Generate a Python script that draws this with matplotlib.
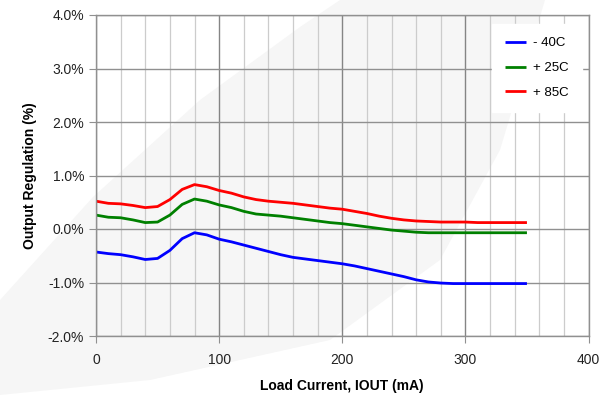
import numpy as np
import matplotlib
matplotlib.use("Agg")
import matplotlib.pyplot as plt
from matplotlib.ticker import FuncFormatter, MultipleLocator
from matplotlib.patches import Polygon

plt.rcParams['font.family'] = ['Liberation Sans', 'DejaVu Sans']

# Load current (mA)
load_ma = [0, 10, 20, 30, 40, 50, 60, 70, 80, 90, 100, 110, 120, 130, 140, 150, 160, 170,
           180, 190, 200, 210, 220, 230, 240, 250, 260, 270, 280, 290, 300, 310, 320, 330, 340, 350]

# Output regulation (%)
reg_m40 = [-0.43, -0.46, -0.48, -0.52, -0.57, -0.55, -0.40, -0.18, -0.07, -0.11, -0.19, -0.24,
           -0.30, -0.36, -0.42, -0.48, -0.53, -0.56, -0.59, -0.62, -0.65, -0.69, -0.74, -0.79,
           -0.84, -0.89, -0.95, -0.99, -1.01, -1.02, -1.02, -1.02, -1.02, -1.02, -1.02, -1.02]
reg_25 = [0.26, 0.22, 0.21, 0.17, 0.12, 0.13, 0.26, 0.46, 0.56, 0.52, 0.45, 0.40,
          0.33, 0.28, 0.26, 0.24, 0.21, 0.18, 0.15, 0.12, 0.10, 0.07, 0.04, 0.01,
          -0.02, -0.04, -0.06, -0.07, -0.07, -0.07, -0.07, -0.07, -0.07, -0.07, -0.07, -0.07]
reg_85 = [0.52, 0.48, 0.47, 0.44, 0.40, 0.42, 0.55, 0.74, 0.83, 0.79, 0.72, 0.67,
          0.60, 0.55, 0.52, 0.50, 0.48, 0.45, 0.42, 0.39, 0.37, 0.33, 0.29, 0.24,
          0.20, 0.17, 0.15, 0.14, 0.13, 0.13, 0.13, 0.12, 0.12, 0.12, 0.12, 0.12]

labels = ['- 40C', '+ 25C', '+ 85C']
colors = ['#0000ff', '#008000', '#ff0000']

fig = plt.figure(figsize=(6.05, 3.95), dpi=100)

# faint background watermark band (figure pixel coords -> fractions)
band_px = [(0, 300), (93, 197), (200, 100), (300, 27), (340, 0), (545, 0), (500, 150),
           (440, 260), (330, 340), (150, 380), (0, 395)]
band = Polygon([(x/605, 1 - y/395) for x, y in band_px], closed=True,
               transform=fig.transFigure, facecolor='#f6f6f6', edgecolor='none', zorder=-10)
fig.add_artist(band)

ax = fig.add_axes([96/605, 1-336/395, (588.5-96)/605, (336-15)/395])
ax.set_zorder(1)
ax.patch.set_alpha(0)

for ys, lab, c in zip([reg_m40, reg_25, reg_85], labels, colors):
    ax.plot(load_ma, ys, color=c, lw=2.0, label=lab, solid_capstyle='butt', solid_joinstyle='round')

ax.set_xlim(0, 400)
ax.set_ylim(-2, 4)
ax.xaxis.set_major_locator(MultipleLocator(100))
ax.xaxis.set_minor_locator(MultipleLocator(20))
ax.yaxis.set_major_locator(MultipleLocator(1))
ax.yaxis.set_major_formatter(FuncFormatter(lambda v, p: f"{v:.1f}%"))

ax.grid(which='minor', axis='x', color='#cccccc', lw=0.9)
ax.grid(which='major', axis='x', color='#858585', lw=1.0)
ax.grid(which='major', axis='y', color='#909090', lw=1.0)
ax.set_axisbelow(True)

for s in ax.spines.values():
    s.set_color('#909090')
    s.set_linewidth(1.0)

ax.tick_params(axis='both', which='major', length=5, color='#909090', labelsize=10, labelcolor='#222222')
ax.tick_params(axis='x', which='minor', length=0)
ax.tick_params(axis='x', pad=7)

ax.set_xlabel('Load Current, IOUT (mA)', fontsize=10, fontweight='bold', labelpad=9)
ax.set_ylabel('Output Regulation (%)', fontsize=10, fontweight='bold', labelpad=8)

ax_w = (588.5 - 96)
ax_h = (336 - 15)
leg = ax.legend(loc='upper left', bbox_to_anchor=((492 - 96) / ax_w, (336 - 24) / ax_h),
                frameon=True, fontsize=9.5,
                handlelength=1.55, handletextpad=0.55, labelspacing=0.95, borderpad=1.0,
                borderaxespad=0, fancybox=False, edgecolor='white', framealpha=1.0)

fig.savefig('out.png', dpi=100)
